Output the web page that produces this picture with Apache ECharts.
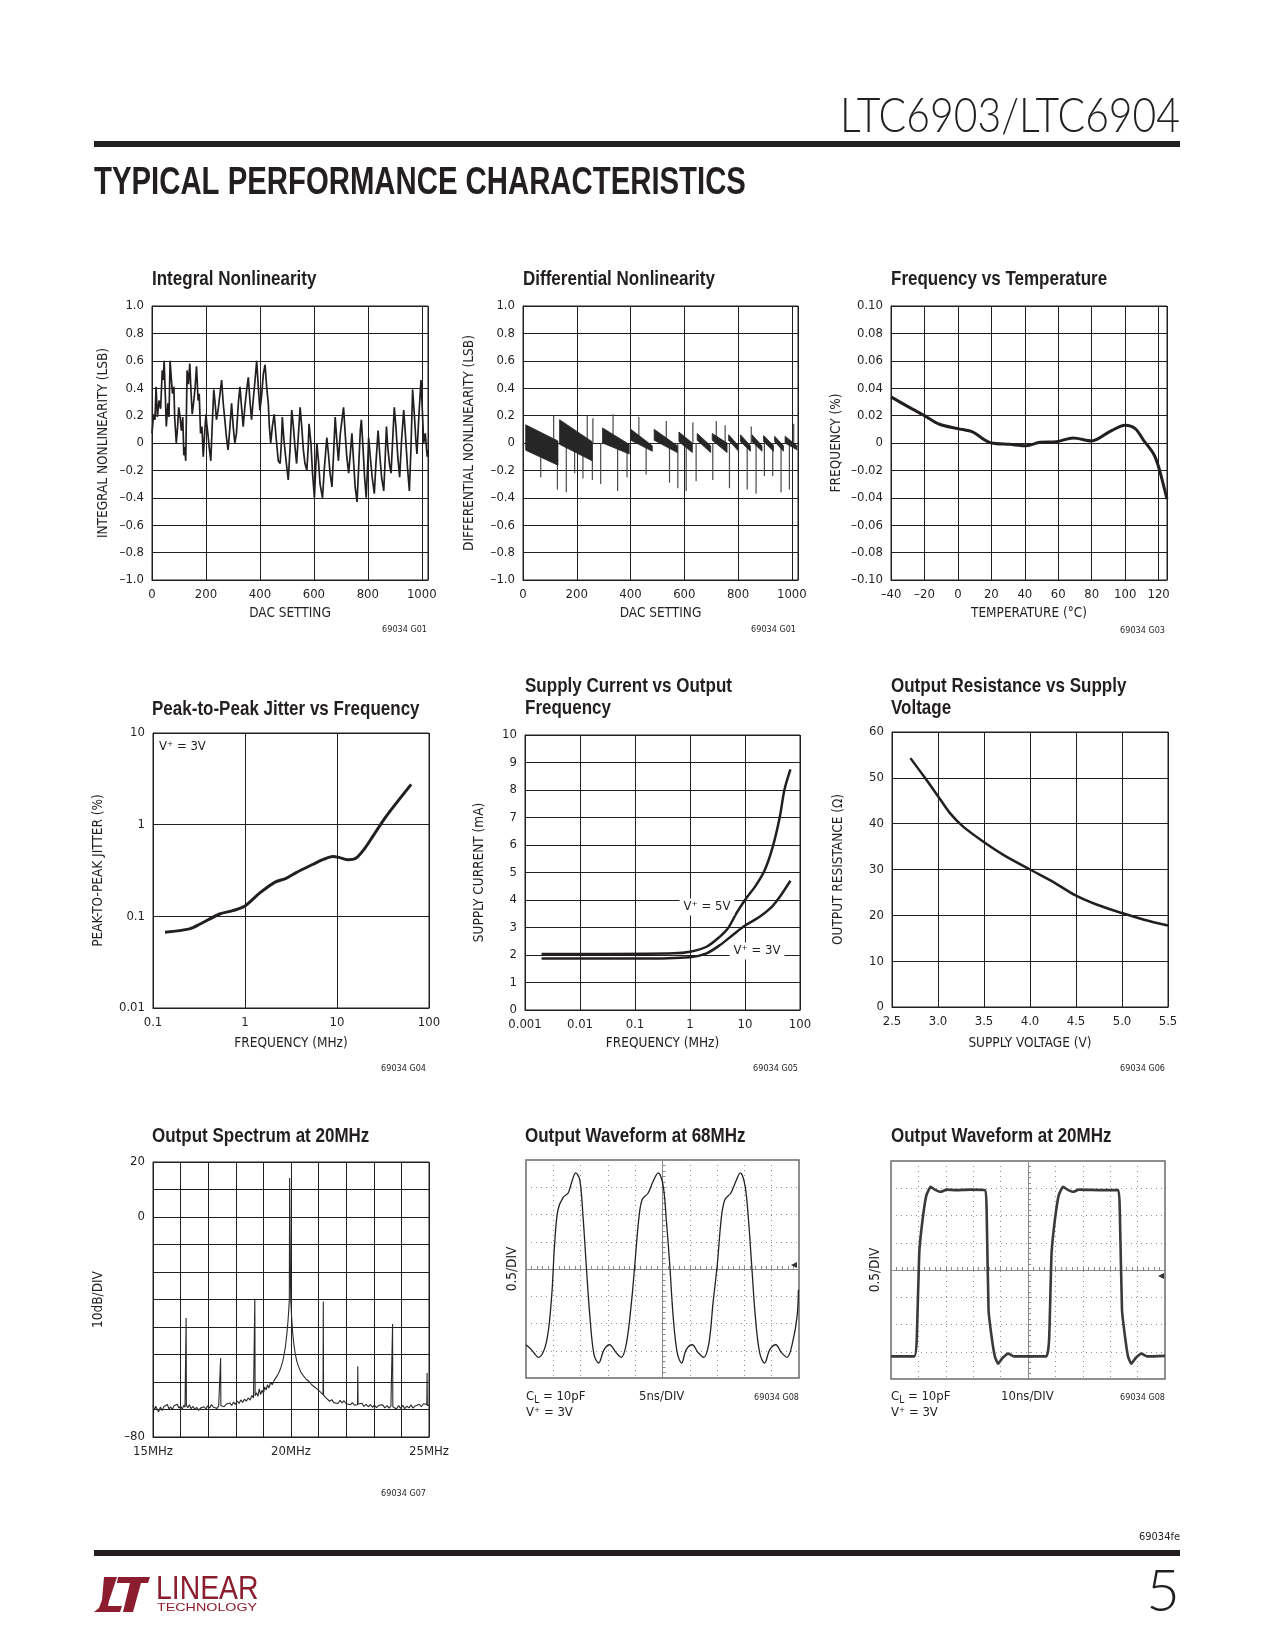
<!DOCTYPE html>
<html><head><meta charset="utf-8">
<script src="https://cdn.jsdelivr.net/npm/echarts@6/dist/echarts.min.js"></script>
<style>html,body{margin:0;padding:0;background:#fff}#c{width:1275px;height:1650px}</style>
</head><body><div id="c"></div>
<script>
// ---------------- DATA ----------------
const inlData = [[0,0.07],[6,0.21],[11,0.17],[15,0.41],[20,0.19],[26,0.31],[32,0.25],[38,0.53],[42,0.46],[45,0.60],[50,0.31],[53,0.12],[59,0.29],[63,0.19],[67,0.60],[72,0.46],[76,0.36],[81,0.41],[84,0.19],[90,0.00],[95,0.12],[99,0.26],[104,0.19],[109,0.09],[114,0.19],[118,-0.09],[121,-0.03],[125,-0.13],[130,0.53],[135,0.43],[140,0.58],[145,0.36],[149,0.21],[155,0.31],[160,0.41],[165,0.56],[171,0.31],[175,0.36],[180,0.07],[185,0.12],[190,-0.10],[195,0.07],[200,0.21],[203,0.14],[207,0.07],[212,-0.03],[218,-0.13],[223,0.12],[229,0.39],[234,0.29],[239,0.17],[245,0.24],[252,0.36],[258,0.46],[264,0.29],[269,0.19],[276,0.04],[282,-0.05],[289,0.12],[295,0.29],[301,0.12],[307,0.00],[313,0.07],[320,0.29],[326,0.41],[332,0.26],[338,0.12],[344,0.26],[351,0.39],[357,0.48],[363,0.31],[369,0.17],[375,0.31],[382,0.46],[388,0.60],[394,0.41],[400,0.24],[406,0.34],[413,0.51],[419,0.57],[425,0.41],[431,0.29],[435,0.12],[440,0.00],[446,0.12],[453,0.21],[460,0.04],[468,-0.13],[475,-0.15],[480,0.02],[483,0.19],[489,0.02],[497,-0.13],[505,-0.27],[512,-0.03],[518,0.24],[524,0.12],[530,-0.03],[536,-0.15],[543,0.07],[549,0.26],[555,0.12],[561,-0.05],[567,-0.15],[574,-0.20],[579,-0.03],[582,0.14],[589,0.00],[595,-0.22],[602,-0.40],[606,-0.22],[611,0.00],[617,-0.13],[623,-0.30],[632,-0.40],[639,-0.18],[648,0.04],[654,-0.08],[660,-0.22],[667,-0.32],[673,-0.08],[679,0.19],[685,0.02],[691,-0.13],[698,0.07],[710,0.26],[716,0.07],[722,-0.10],[729,-0.22],[735,-0.08],[741,0.07],[747,-0.13],[753,-0.32],[760,-0.43],[766,-0.18],[772,0.09],[776,0.17],[782,-0.03],[788,-0.25],[794,-0.40],[799,-0.18],[803,0.04],[809,-0.10],[816,-0.25],[824,-0.37],[830,-0.15],[838,0.09],[844,-0.08],[851,-0.25],[859,-0.35],[864,-0.13],[869,0.12],[874,-0.03],[880,-0.15],[886,-0.22],[892,0.02],[898,0.26],[904,0.12],[911,-0.10],[918,-0.25],[925,0.02],[933,0.24],[939,0.07],[947,-0.18],[954,-0.35],[960,-0.03],[966,0.39],[973,0.19],[978,0.02],[982,-0.08],[989,0.19],[997,0.46],[1002,0.24],[1007,0.00],[1013,0.07],[1020,-0.10],[1023,-0.05]];

// DNL sawtooth bands: [xStart, xEnd, topStart, topEnd, bottomStart, bottomEnd]
const dnlBands = [[10,130,0.133,0.015,-0.053,-0.162],[136,257,0.17,0.01,-0.01,-0.13],[296,395,0.11,-0.01,0.00,-0.08],[401,481,0.10,-0.02,0.02,-0.06],[488,574,0.10,-0.02,0.02,-0.07],[580,630,0.08,0.00,0.01,-0.07],[648,698,0.07,-0.02,0.02,-0.07],[704,759,0.07,0.00,0.02,-0.07],[765,802,0.06,-0.02,0.02,-0.06],[809,846,0.06,-0.02,0.01,-0.06],[852,889,0.06,-0.02,0.01,-0.06],[895,932,0.055,-0.02,0.01,-0.06],[936,969,0.05,-0.02,0.01,-0.06],[975,1019,0.05,-0.02,0.00,-0.05]];
// DNL isolated spikes: [DAC code, LSB]
const dnlSpikes = [[66,-0.25],[114,0.20],[128,-0.34],[161,-0.36],[192,-0.22],[223,-0.26],[239,0.20],[258,-0.27],[260,0.18],[289,-0.30],[335,0.21],[352,-0.35],[387,-0.25],[431,0.19],[458,-0.23],[533,0.16],[545,-0.29],[576,-0.33],[607,-0.35],[632,0.15],[644,-0.28],[706,-0.27],[719,0.16],[752,0.13],[768,-0.33],[834,-0.34],[849,0.12],[867,-0.37],[898,-0.24],[929,-0.24],[960,-0.36],[991,-0.34],[1007,0.14]];

const tempData = [[-40,0.0337],[-29,0.026],[-20,0.020],[-11,0.0137],[0,0.0105],[9,0.008],[15,0.003],[20,0.0],[31,-0.001],[41,-0.002],[49,0.0005],[59,0.001],[69,0.0037],[80,0.0015],[91,0.0085],[100,0.013],[106,0.0105],[111,0.002],[117,-0.008],[120,-0.0175],[125,-0.041]];

const jitterData = [[0.135,0.067],[0.25,0.073],[0.33,0.083],[0.53,0.106],[0.75,0.116],[1.0,0.13],[1.45,0.18],[2.1,0.235],[2.8,0.26],[3.6,0.30],[5.5,0.37],[7.0,0.415],[9.0,0.45],[10.5,0.44],[13,0.415],[16,0.43],[20,0.55],[24.6,0.75],[34.4,1.24],[64,2.75]];

const supply5V = [[0.002,2.04],[0.03,2.04],[0.5,2.06],[1,2.12],[2,2.3],[3.5,2.67],[4.9,2.97],[7,3.52],[10,4.0],[16,4.55],[23,5.1],[32,5.94],[43,7.03],[52,8.0],[67,8.75]];
const supply3V = [[0.002,1.87],[0.12,1.87],[1,1.92],[2,2.06],[3.5,2.36],[6,2.73],[10,3.07],[18.5,3.39],[30,3.73],[43,4.12],[67,4.7]];

const routData = [[2.7,54.3],[2.84,50.5],[3.0,46.0],[3.13,42.3],[3.27,39.4],[3.49,36.1],[3.71,33.2],[4.0,30.0],[4.26,27.2],[4.49,24.4],[4.73,22.3],[5.0,20.5],[5.24,19.05],[5.5,17.8]];

const spectrum = [[15.00,-68.5],[15.05,-70.2],[15.10,-68.8],[15.15,-69.9],[15.20,-70.8],[15.27,-69.1],[15.33,-70.4],[15.40,-68.9],[15.46,-69.6],[15.52,-68.2],[15.58,-69.8],[15.64,-69.0],[15.70,-70.1],[15.76,-68.6],[15.82,-69.3],[15.88,-68.1],[15.94,-69.5],[16.00,-68.7],[16.06,-69.9],[16.12,-68.4],[16.16,-69.2],[16.19,-68.8],[16.20,-36.7],[16.21,-68.5],[16.26,-69.4],[16.32,-68.3],[16.38,-69.7],[16.45,-68.9],[16.52,-70.0],[16.58,-69.2],[16.65,-70.3],[16.72,-69.5],[16.78,-70.1],[16.85,-69.0],[16.92,-69.8],[16.98,-68.6],[17.05,-69.4],[17.12,-68.2],[17.18,-69.1],[17.25,-68.5],[17.32,-69.6],[17.38,-68.7],[17.43,-69.2],[17.44,-68.9],[17.45,-51.3],[17.46,-68.6],[17.52,-67.9],[17.58,-69.0],[17.65,-68.1],[17.72,-68.8],[17.78,-67.6],[17.85,-68.5],[17.92,-67.3],[17.98,-68.2],[18.05,-66.9],[18.12,-67.8],[18.18,-66.5],[18.25,-67.4],[18.32,-66.2],[18.38,-67.0],[18.45,-65.8],[18.52,-66.6],[18.58,-64.9],[18.64,-65.8],[18.68,-65.5],[18.69,-29.7],[18.70,-65.0],[18.75,-63.9],[18.80,-65.2],[18.85,-62.5],[18.90,-64.6],[18.95,-63.0],[19.00,-64.1],[19.05,-61.8],[19.10,-62.9],[19.15,-61.0],[19.20,-62.2],[19.26,-60.1],[19.32,-61.0],[19.38,-59.6],[19.45,-58.5],[19.52,-57.4],[19.58,-56.2],[19.64,-54.5],[19.70,-52.5],[19.75,-50.0],[19.80,-47.0],[19.85,-42.5],[19.89,-38.0],[19.92,-33.5],[19.94,-30.0],[19.95,14.2],[19.98,14.2],[19.99,-30.0],[20.02,-36.0],[20.06,-42.0],[20.10,-46.0],[20.15,-49.5],[20.21,-52.5],[20.28,-54.5],[20.36,-56.5],[20.45,-57.8],[20.55,-59.0],[20.65,-59.8],[20.75,-61.0],[20.85,-61.8],[20.95,-62.6],[21.05,-63.5],[21.12,-64.2],[21.16,-64.6],[21.17,-30.7],[21.18,-64.8],[21.25,-65.6],[21.32,-66.2],[21.40,-67.0],[21.48,-66.4],[21.55,-67.5],[21.62,-66.9],[21.70,-67.8],[21.78,-66.7],[21.85,-67.6],[21.92,-66.8],[22.00,-67.9],[22.07,-67.2],[22.15,-68.3],[22.22,-67.5],[22.30,-68.4],[22.37,-67.8],[22.41,-68.3],[22.42,-54.3],[22.43,-68.0],[22.50,-68.6],[22.57,-67.7],[22.64,-68.9],[22.72,-68.1],[22.80,-69.0],[22.88,-68.2],[22.95,-69.2],[23.02,-68.4],[23.10,-69.3],[23.18,-68.5],[23.25,-69.1],[23.32,-68.3],[23.40,-69.4],[23.48,-68.6],[23.55,-69.5],[23.62,-68.7],[23.67,-69.3],[23.68,-38.9],[23.69,-69.0],[23.75,-68.4],[23.82,-69.8],[23.90,-68.6],[23.97,-69.6],[24.05,-68.5],[24.12,-69.7],[24.20,-68.8],[24.28,-69.4],[24.35,-68.3],[24.42,-69.5],[24.50,-68.7],[24.57,-69.2],[24.65,-68.1],[24.72,-69.0],[24.80,-67.9],[24.87,-68.6],[24.92,-68.2],[24.93,-56.7],[24.94,-68.5],[25.00,-68.4]];

// scope traces in screen divisions from centre (x: -5..5, y: -4..4)
const wave68 = [[-5.00,-2.78],[-4.82,-2.94],[-4.54,-3.24],[-4.26,-2.72],[-4.07,-1.13],[-3.95,0.95],[-3.83,2.17],[-3.64,2.63],[-3.46,2.78],[-3.34,3.14],[-3.18,3.53],[-3.03,3.27],[-2.91,1.92],[-2.79,0.09],[-2.66,-1.74],[-2.51,-3.14],[-2.34,-3.45],[-2.14,-2.96],[-1.94,-2.78],[-1.69,-3.08],[-1.51,-3.24],[-1.32,-2.72],[-1.14,-1.25],[-1.02,0.09],[-0.86,1.92],[-0.74,2.56],[-0.53,2.78],[-0.35,3.20],[-0.16,3.53],[0.02,3.08],[0.14,1.80],[0.27,0.09],[0.39,-1.74],[0.54,-3.08],[0.70,-3.45],[0.87,-2.96],[1.09,-2.78],[1.30,-3.06],[1.51,-3.24],[1.70,-2.72],[1.85,-1.25],[2.00,0.09],[2.16,1.92],[2.29,2.56],[2.50,2.78],[2.68,3.20],[2.85,3.53],[3.02,3.08],[3.15,1.80],[3.27,0.09],[3.40,-1.74],[3.56,-3.08],[3.74,-3.45],[3.93,-2.96],[4.15,-2.78],[4.35,-3.06],[4.56,-3.24],[4.76,-2.72],[4.93,-1.74],[4.98,-0.76]];
const wave20 = [[-5,-3.17],[-4.15,-3.17],[-4.06,-2.56],[-3.97,0.61],[-3.85,1.83],[-3.71,2.74],[-3.55,3.05],[-3.40,2.95],[-3.19,2.87],[-2.97,2.95],[-2.61,2.93],[-2.12,2.95],[-1.57,2.93],[-1.51,2.2],[-1.44,-1.46],[-1.33,-2.44],[-1.21,-3.17],[-1.09,-3.44],[-0.93,-3.23],[-0.72,-3.07],[-0.52,-3.17],[-0.18,-3.17],[0.67,-3.17],[0.77,-2.56],[0.86,0.61],[0.98,1.83],[1.12,2.74],[1.28,3.05],[1.44,2.95],[1.65,2.87],[1.86,2.95],[2.74,2.93],[3.29,2.93],[3.35,2.2],[3.43,-1.46],[3.54,-2.44],[3.65,-3.17],[3.77,-3.44],[3.93,-3.23],[4.14,-3.07],[4.34,-3.17],[5,-3.15]];

const chartTitles = ['Integral Nonlinearity','Differential Nonlinearity','Frequency vs Temperature','Peak-to-Peak Jitter vs Frequency','Supply Current vs Output\nFrequency','Output Resistance vs Supply\nVoltage','Output Spectrum at 20MHz','Output Waveform at 68MHz','Output Waveform at 20MHz'];

// ---------------- STYLE / LAYOUT ----------------
const INK = '#231f20';
const FONT = "'Liberation Sans Narrow','DejaVu Sans Condensed','Arial Narrow',sans-serif";
const SANS = "'Liberation Sans',Arial,sans-serif";
const LIGHT = "Lato,'Open Sans','Liberation Sans',sans-serif";
const RED = '#8b1d2e';
const dash = v => (v < 0 ? '\u2013' : '');

const gridBoxes = [
  [152,306,276,274],[523,306,275,274],[891,306,276,274],
  [153,733,276,275],[525,735,275,275],[892,732,276,275],
  [153,1162,276,275],[526,1160,273,218],[891,1161,274,218]
];
const grids = gridBoxes.map((b,i) => ({left:b[0], top:b[1], width:b[2], height:b[3], show:true,
  borderColor: i >= 7 ? '#6a6a6a' : INK, borderWidth: i >= 7 ? 1.5 : 1}));

// title anchor = left edge / vertical middle of first line
const titlePos = [[152,279],[523,279],[891,279],[152,709],[525,686],[891,686],[152,1136],[525,1136],[891,1136]];

function ax(grid, o) {
  const a = {
    gridIndex: grid, type: o.type || 'value', min: o.min, max: o.max,
    axisLine: {show:true, onZero:false, lineStyle:{color:INK, width:1}},
    axisTick: {show:false},
    splitLine: {show:true, lineStyle:{color:INK, width:1}},
    axisLabel: {color:INK, fontFamily:FONT, fontSize:13, margin:o.margin || 8, formatter:o.fmt},
    name: o.name || '', nameLocation:'middle', nameGap: o.gap || 30,
    nameTextStyle: {color:INK, fontFamily:FONT, fontSize:13.5}
  };
  if (o.interval != null) a.interval = o.interval;
  if (o.type === 'log') a.logBase = 10;
  return a;
}
function scopeAx(grid, isX) {
  return {gridIndex:grid, type:'value', min:isX?-5:-4, max:isX?5:4, interval:1,
    axisLine:{show:true, onZero:true, lineStyle:{color:'#8a8a8a', width:1}},
    axisTick:{show:true, inside:true, length:3, lineStyle:{color:'#8a8a8a'}},
    minorTick:{show:true, splitNumber:5, length:3, lineStyle:{color:'#8a8a8a'}},
    axisLabel:{show:false},
    splitLine:{show:true, lineStyle:{color:'#8f8f8f', width:1, type:[1,4]}}};
}
const fmt1 = v => Math.abs(v) < 1e-9 ? '0' : dash(v) + Math.abs(v).toFixed(1);
const fmt2 = v => Math.abs(v) < 1e-9 ? '0' : dash(v) + Math.abs(v).toFixed(2);
const fmtLog = v => { const e = Math.round(Math.log10(v)); return e >= 0 ? String(Math.pow(10,e)) : Math.pow(10,e).toFixed(-e); };

const xAxis = [
  ax(0,{min:0,max:1023,interval:200,name:'DAC SETTING',gap:26,fmt:v=>v>1000?'':String(v)}),
  ax(1,{min:0,max:1023,interval:200,name:'DAC SETTING',gap:26,fmt:v=>v>1000?'':String(v)}),
  ax(2,{min:-40,max:125,interval:20,name:'TEMPERATURE (\u00b0C)',gap:26,fmt:v=>v>120?'':dash(v)+Math.abs(v)}),
  ax(3,{type:'log',min:0.1,max:100,name:'FREQUENCY (MHz)',gap:28,fmt:fmtLog}),
  ax(4,{type:'log',min:0.001,max:100,name:'FREQUENCY (MHz)',gap:26,fmt:fmtLog}),
  ax(5,{min:2.5,max:5.5,interval:0.5,name:'SUPPLY VOLTAGE (V)',gap:29,fmt:v=>v.toFixed(1)}),
  ax(6,{min:15,max:25,interval:1,fmt:v=>(Math.abs(v-15)<1e-6||Math.abs(v-20)<1e-6||Math.abs(v-25)<1e-6)?Math.round(v)+'MHz':''}),
  scopeAx(7,true), scopeAx(8,true)
];
const yAxis = [
  ax(0,{min:-1,max:1,interval:0.2,name:'INTEGRAL NONLINEARITY (LSB)',gap:42,fmt:fmt1}),
  ax(1,{min:-1,max:1,interval:0.2,name:'DIFFERENTIAL NONLINEARITY (LSB)',gap:47,fmt:fmt1}),
  ax(2,{min:-0.1,max:0.1,interval:0.02,name:'FREQUENCY (%)',gap:48,fmt:fmt2}),
  ax(3,{type:'log',min:0.01,max:10,name:'PEAK-TO-PEAK JITTER (%)',gap:48,fmt:fmtLog}),
  ax(4,{min:0,max:10,interval:1,name:'SUPPLY CURRENT (mA)',gap:39,fmt:v=>String(v)}),
  ax(5,{min:0,max:60,interval:10,name:'OUTPUT RESISTANCE (\u03a9)',gap:47,fmt:v=>String(v)}),
  ax(6,{min:-80,max:20,interval:10,name:'10dB/DIV',gap:48,fmt:v=>(v===20?'20':v===0?'0':v===-80?'\u201380':'')}),
  scopeAx(7,false), scopeAx(8,false)
];

const lineS = (i, data, w, extra) => Object.assign({type:'line', xAxisIndex:i, yAxisIndex:i, data, symbol:'none', silent:true,
  lineStyle:{color:INK, width:w}}, extra || {});

const series = [
  lineS(0, inlData, 1.7),
  {type:'custom', xAxisIndex:1, yAxisIndex:1, data:dnlSpikes, silent:true, z:1,
    renderItem:(p, api) => { const a = api.coord([api.value(0), 0]), b = api.coord([api.value(0), api.value(1)]);
      return {type:'line', shape:{x1:a[0], y1:a[1], x2:b[0], y2:b[1]}, style:{stroke:'#4a4a4a', lineWidth:1.2}}; }},
  {type:'custom', xAxisIndex:1, yAxisIndex:1, data:dnlBands, silent:true, z:3,
    renderItem:(p, api) => ({type:'polygon', shape:{points:[
      api.coord([api.value(0), api.value(2)]), api.coord([api.value(1), api.value(3)]),
      api.coord([api.value(1), api.value(5)]), api.coord([api.value(0), api.value(4)])]},
      style:{fill:'#262626', stroke:'#262626', lineWidth:0.8}})},
  lineS(2, tempData, 3, {smooth:0.3}),
  lineS(3, jitterData, 3, {smooth:0.3}),
  lineS(4, supply5V, 2.5, {smooth:0.3}),
  lineS(4, supply3V, 2.5, {smooth:0.3}),
  lineS(5, routData, 2.5, {smooth:0.3}),
  lineS(6, spectrum, 1, {lineStyle:{color:'#2a2a2a', width:1.1}}),
  lineS(7, wave68, 1.3, {smooth:0.35, lineStyle:{color:'#222', width:1.3}}),
  lineS(8, wave20, 2.6, {smooth:0.15, lineStyle:{color:'#3a3a3a', width:2.6}})
];

function T(x, y, text, o) {
  o = o || {};
  return {type:'text', x, y, z:100, rotation:o.rot || 0, scaleX:o.sx || 1, scaleY:o.sy || 1,
    style:Object.assign({text, fill:o.fill || INK, fontFamily:o.family || FONT, fontSize:o.size || 13,
      fontWeight:o.weight || 'normal', align:o.align || 'left', verticalAlign:'middle',
      textAlign:o.align || 'left', textVerticalAlign:'middle', lineHeight:o.lh}, o.style || {})};
}
const sub = {l:{fontSize:10, fontFamily:FONT, fill:INK, padding:[6,0,0,0]}};

const titleGraphics = chartTitles.map((t,i) => {
  const lines = t.split('\n');
  return lines.map((ln,k) => T(titlePos[i][0], titlePos[i][1] + k*22, ln, {family:SANS, size:21, weight:'bold', sx:0.81}));
}).flat();

const graphic = titleGraphics.concat([
  T(1180,117,'LTC6903/LTC6904',{family:LIGHT, size:47, weight:300, align:'right', sx:0.87}),
  {type:'rect', z:100, shape:{x:94, y:141, width:1086, height:6}, style:{fill:INK}},
  T(94,184,'TYPICAL PERFORMANCE CHARACTERISTICS',{family:SANS, size:38, weight:'bold', sx:0.772}),
  // codes
  T(427,630,'69034 G01',{size:9, align:'right'}),
  T(796,630,'69034 G01',{size:9, align:'right'}),
  T(1165,631,'69034 G03',{size:9, align:'right'}),
  T(426,1069,'69034 G04',{size:9, align:'right'}),
  T(798,1069,'69034 G05',{size:9, align:'right'}),
  T(1165,1069,'69034 G06',{size:9, align:'right'}),
  T(426,1494,'69034 G07',{size:9, align:'right'}),
  T(799,1398,'69034 G08',{size:9, align:'right'}),
  T(1165,1398,'69034 G08',{size:9, align:'right'}),
  // annotations
  T(159,747,'V\u207a = 3V'),
  T(707,907,'V\u207a = 5V',{align:'center', style:{backgroundColor:'#fff', padding:[2,4]}}),
  T(757,951,'V\u207a = 3V',{align:'center', style:{backgroundColor:'#fff', padding:[2,4]}}),
  T(512,1269,'0.5/DIV',{rot:Math.PI/2, align:'center', size:13.5}),
  T(875,1270,'0.5/DIV',{rot:Math.PI/2, align:'center', size:13.5}),
  T(526,1397,'C{l|L} = 10pF',{style:{rich:sub}}),
  T(526,1413,'V\u207a = 3V'),
  T(639,1397,'5ns/DIV'),
  T(891,1397,'C{l|L} = 10pF',{style:{rich:sub}}),
  T(891,1413,'V\u207a = 3V'),
  T(1001,1397,'10ns/DIV'),
  {type:'polygon', z:100, shape:{points:[[791,1265],[797,1262],[797,1268]]}, style:{fill:'#333'}},
  {type:'polygon', z:100, shape:{points:[[1158,1276],[1164,1273],[1164,1279]]}, style:{fill:'#333'}},
  // footer
  T(1180,1537,'69034fe',{size:11, align:'right'}),
  {type:'rect', z:100, shape:{x:94, y:1550, width:1086, height:6}, style:{fill:INK}},
  T(1180,1592,'5',{family:LIGHT, size:58, weight:300, align:'right'}),
  {type:'polygon', z:100, shape:{points:[[104,1577],[117,1577],[109,1601],[108,1606],[122,1606],[120,1612],[94,1612],[99,1608],[102,1600]]}, style:{fill:RED}},
  {type:'polygon', z:100, shape:{points:[[118,1577],[150,1577],[148,1583],[141,1583],[133,1612],[123,1612],[130,1583],[117,1583]]}, style:{fill:RED}},
  T(156,1590,'LINEAR',{family:SANS, size:33, fill:RED, sx:0.86}),
  T(157,1608,'TECHNOLOGY',{family:SANS, size:11, fill:RED, sx:1.3})
]);

const chart = echarts.init(document.getElementById('c'), null, {renderer:'canvas'});
chart.setOption({animation:false, backgroundColor:'#fff', grid:grids, xAxis, yAxis, series, graphic});
</script>
</body></html>
